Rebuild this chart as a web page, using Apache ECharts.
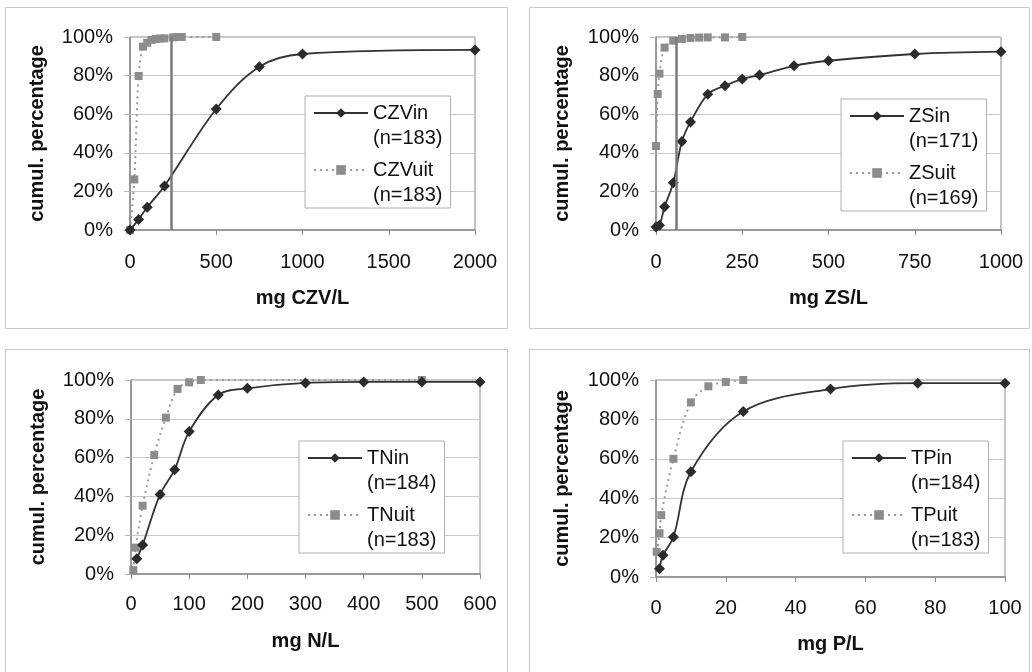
<!DOCTYPE html>
<html><head><meta charset="utf-8">
<script src="https://cdn.jsdelivr.net/npm/echarts@6/dist/echarts.min.js"></script>
<style>html,body{margin:0;padding:0;background:#fff}#c{width:1032px;height:672px}</style>
</head><body><div id="c"></div>
<script>
// ---- data ----
const czvInX  = [0, 50, 100, 200, 500, 750, 1000, 2000];
const czvInY  = [0, 5.5, 11.8, 22.8, 62.7, 84.6, 91.2, 93.3];
const czvUitX = [0, 25, 50, 75, 100, 125, 150, 175, 200, 250, 275, 300, 500];
const czvUitY = [0, 26.2, 79.8, 95, 97, 98.5, 99, 99.2, 99.3, 99.8, 100, 100, 100];

const zsInX  = [0, 10, 25, 50, 75, 100, 150, 200, 250, 300, 400, 500, 750, 1000];
const zsInY  = [1.5, 2.5, 12, 24.5, 45.8, 56, 70.3, 74.8, 78.2, 80.3, 85.1, 87.7, 91.2, 92.4];
const zsUitX = [0, 5, 10, 25, 50, 75, 100, 125, 150, 200, 250];
const zsUitY = [43.5, 70.5, 81, 94.5, 98.1, 99, 99.5, 99.7, 99.8, 99.8, 100];

const tnInX  = [10, 20, 50, 75, 100, 150, 200, 300, 400, 500, 600];
const tnInY  = [7.9, 15, 41, 53.8, 73.4, 92.3, 95.7, 98.5, 99, 99, 99];
const tnUitX = [4, 8, 20, 40, 60, 80, 100, 120, 500];
const tnUitY = [2, 13.6, 35.2, 61.3, 80.6, 95.4, 98.8, 100, 100];

const tpInX  = [1, 2, 5, 10, 25, 50, 75, 100];
const tpInY  = [4.2, 11, 20.3, 53.4, 84, 95.4, 98.4, 98.4];
const tpUitX = [0.2, 1, 1.5, 5, 10, 15, 20, 25];
const tpUitY = [12.8, 22.2, 31.4, 60, 88.6, 96.8, 99, 100];

const seriesInNames  = ['CZVin', 'ZSin', 'TNin', 'TPin'];
const seriesUitNames = ['CZVuit', 'ZSuit', 'TNuit', 'TPuit'];
const nIn  = [183, 171, 184, 184];
const nUit = [183, 169, 183, 183];
const xAxisNames = ['mg CZV/L', 'mg ZS/L', 'mg N/L', 'mg P/L'];
const xMaxes = [2000, 1000, 600, 100];
const xIntervals = [500, 250, 100, 20];
const limits = [240, 60, null, null];
const yAxisName = 'cumul. percentage';

// ---- layout ----
const FONT = '"Liberation Sans", Arial, Helvetica, sans-serif';
const layouts = [
  {frame:[5,7,502,321],   grid:{left:130,top:37,width:345,height:193},  legend:{left:305,top:96},  lm:22, ng:58, yng:83},
  {frame:[529,7,500,321], grid:{left:656,top:37,width:345,height:193},  legend:{left:841,top:99},  lm:22, ng:58, yng:84},
  {frame:[5,349,502,330], grid:{left:131,top:380,width:349,height:194}, legend:{left:299,top:441}, lm:20, ng:57, yng:83},
  {frame:[529,349,500,330],grid:{left:656,top:380,width:349,height:197},legend:{left:843,top:441}, lm:21, ng:57, yng:84}
];

const inData  = [[czvInX, czvInY], [zsInX, zsInY], [tnInX, tnInY], [tpInX, tpInY]];
const uitData = [[czvUitX, czvUitY], [zsUitX, zsUitY], [tnUitX, tnUitY], [tpUitX, tpUitY]];
const zip = (xs, ys) => xs.map((x, i) => [x, ys[i]]);

const grids = [], xAxes = [], yAxes = [], series = [], legends = [], graphics = [];
layouts.forEach((L, i) => {
  graphics.push({type:'rect', shape:{x:L.frame[0]+0.5, y:L.frame[1]+0.5, width:L.frame[2], height:L.frame[3]},
    style:{fill:'none', stroke:'#c6c6c6', lineWidth:1}, silent:true, z:-10});
  grids.push(Object.assign({show:true, borderColor:'#8a8a8a', borderWidth:1, backgroundColor:'#fff'}, L.grid));
  xAxes.push({
    type:'value', gridIndex:i, min:0, max:xMaxes[i], interval:xIntervals[i],
    name:xAxisNames[i], nameLocation:'middle', nameGap:L.ng,
    nameTextStyle:{fontFamily:FONT, fontSize:20, fontWeight:'bold', color:'#111'},
    axisLine:{show:true, onZero:false, lineStyle:{color:'#8a8a8a', width:1.5}},
    axisTick:{show:true, inside:false, length:5, lineStyle:{color:'#8a8a8a'}},
    axisLabel:{fontFamily:FONT, fontSize:20, color:'#111', margin:L.lm, hideOverlap:false,
      formatter: v => String(v)},
    splitLine:{show:false}
  });
  yAxes.push({
    type:'value', gridIndex:i, min:0, max:100, interval:20,
    name:yAxisName, nameLocation:'middle', nameGap:L.yng,
    nameTextStyle:{fontFamily:FONT, fontSize:20, fontWeight:'bold', color:'#111'},
    axisLine:{show:true, lineStyle:{color:'#8a8a8a', width:1.5}},
    axisTick:{show:true, inside:false, length:6, lineStyle:{color:'#b5b5b5'}},
    axisLabel:{fontFamily:FONT, fontSize:20, color:'#111', margin:17, formatter:'{value}%'},
    splitLine:{show:true, lineStyle:{color:'#c8c8c8', width:1}}
  });
  const sIn = {
    name:seriesInNames[i], type:'line', xAxisIndex:i, yAxisIndex:i,
    data:zip(inData[i][0], inData[i][1]), smooth:0.35, clip:false,
    symbol:'diamond', symbolSize:11,
    lineStyle:{color:'#333', width:1.8},
    itemStyle:{color:'#2b2b2b'},
    emphasis:{disabled:true}, z:3
  };
  if (limits[i] != null) {
    sIn.markLine = {silent:true, symbol:['none','none'], label:{show:false}, animation:false,
      lineStyle:{color:'#7a7a7a', width:2.5, type:'solid'}, data:[{xAxis:limits[i]}]};
  }
  series.push(sIn);
  series.push({
    name:seriesUitNames[i], type:'line', xAxisIndex:i, yAxisIndex:i,
    data:zip(uitData[i][0], uitData[i][1]), smooth:0.35, clip:false,
    symbol:'rect', symbolSize:8,
    lineStyle:{color:'#9a9a9a', width:2, type:[2,4]},
    itemStyle:{color:'#8c8c8c'},
    emphasis:{disabled:true}, z:2
  });
  const labels = {};
  labels[seriesInNames[i]] = '(n=' + nIn[i] + ')';
  labels[seriesUitNames[i]] = '(n=' + nUit[i] + ')';
  legends.push({
    left:L.legend.left, top:L.legend.top, orient:'vertical',
    data:[seriesInNames[i], seriesUitNames[i]],
    itemWidth:54, itemHeight:12, itemGap:-18,
    padding:[-20.5, 8, 0.5, 8],
    backgroundColor:'#fff', borderColor:'#b0b0b0', borderWidth:1,
    selectedMode:false,
    formatter: name => '{e| }\n{a|' + name + '}\n{a|' + labels[name] + '}',
    textStyle:{fontFamily:FONT, fontSize:20, color:'#111', lineHeight:25,
      rich:{
        e:{fontFamily:FONT, fontSize:20, lineHeight:25, color:'#111'},
        a:{fontFamily:FONT, fontSize:20, lineHeight:25, color:'#111'}
      }}
  });
});

const chart = echarts.init(document.getElementById('c'), null, {renderer:'canvas'});
chart.setOption({
  animation:false,
  backgroundColor:'#fff',
  grid:grids, xAxis:xAxes, yAxis:yAxes, series:series, legend:legends,
  graphic:{elements:graphics}
});
</script></body></html>
